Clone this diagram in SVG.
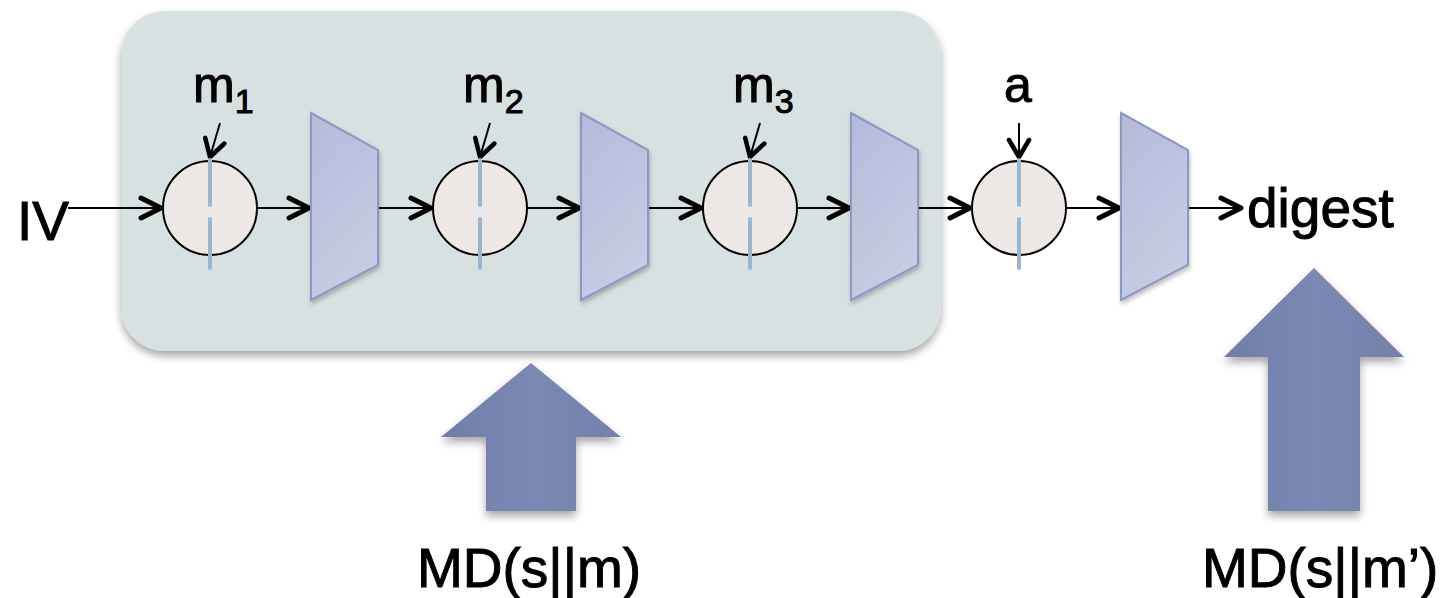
<svg xmlns="http://www.w3.org/2000/svg" width="1450" height="598" viewBox="0 0 1450 598">
<defs>
<style>
.lbl{font-family:"Liberation Sans","DejaVu Sans",sans-serif;fill:#000;stroke:#000;stroke-width:1}
.big{font-size:55px}
.m{font-size:50px}
.sub{font-size:34px}
.circ{fill:#ede8e6;stroke:#000;stroke-width:2}
.dash{stroke:#98b6cf;stroke-width:4;stroke-linecap:round;fill:none}
.trap{fill:url(#tg);stroke:#8b98c1;stroke-width:2;filter:url(#sh2)}
.ln{stroke:#000;stroke-width:2;fill:none}
.ln1{marker-end:url(#ah)}
.ln2{marker-end:url(#ahs)}
.bigarrow{fill:url(#ag);filter:url(#sh)}
</style>
<linearGradient id="tg" x1="0" y1="0" x2="0.4" y2="1">
<stop offset="0" stop-color="#b3bad9"/>
<stop offset="1" stop-color="#c7cce4"/>
</linearGradient>
<linearGradient id="ag" x1="0" y1="0" x2="1" y2="0">
<stop offset="0" stop-color="#6f7ea8"/>
<stop offset="0.5" stop-color="#7a88b3"/>
<stop offset="1" stop-color="#7381aa"/>
</linearGradient>
<filter id="sh" x="-20%" y="-20%" width="140%" height="140%">
<feDropShadow dx="0" dy="5" stdDeviation="4" flood-color="#000" flood-opacity="0.35"/>
</filter>
<filter id="sh2" x="-20%" y="-20%" width="140%" height="140%">
<feDropShadow dx="1" dy="3" stdDeviation="2" flood-color="#000" flood-opacity="0.25"/>
</filter>
<marker id="ah" markerUnits="userSpaceOnUse" markerWidth="40" markerHeight="40" refX="0" refY="0" orient="auto" overflow="visible">
<path d="M-20,-10 L0,0 L-20,10" fill="none" stroke="#000" stroke-width="5" stroke-linecap="round" stroke-linejoin="round"/>
</marker>
<marker id="ahs" markerUnits="userSpaceOnUse" markerWidth="40" markerHeight="40" refX="0" refY="0" orient="auto" overflow="visible">
<path d="M-17,-10 L0,0 L-17,10" fill="none" stroke="#000" stroke-width="4.5" stroke-linecap="round" stroke-linejoin="round"/>
</marker>
</defs>

<g id="container">
<rect x="121" y="11" width="820" height="340" rx="44" ry="44" fill="#d8e1e2" filter="url(#sh)"/>
</g>

<g id="connectors">
<line class="ln ln1" x1="68" y1="208" x2="161" y2="208"/>
<line class="ln ln1" x1="257" y1="208" x2="309" y2="208"/>
<line class="ln ln1" x1="378" y1="208" x2="431" y2="208"/>
<line class="ln ln1" x1="527" y1="208" x2="579" y2="208"/>
<line class="ln ln1" x1="648" y1="208" x2="701" y2="208"/>
<line class="ln ln1" x1="797" y1="208" x2="849" y2="208"/>
<line class="ln ln1" x1="918" y1="208" x2="970" y2="208"/>
<line class="ln ln1" x1="1067" y1="208" x2="1119" y2="208"/>
<line class="ln ln1" x1="1188" y1="208" x2="1241" y2="208"/>
<line class="ln ln2" x1="220" y1="123" x2="210" y2="157"/>
<line class="ln ln2" x1="490" y1="123" x2="480" y2="157"/>
<line class="ln ln2" x1="760" y1="123" x2="750" y2="157"/>
<line class="ln ln2" x1="1019" y1="123" x2="1019" y2="157"/>
</g>

<g id="xor1">
<circle class="circ" cx="210" cy="208" r="47"/>
<path class="dash" d="M210,160 V205 M210,219 V268"/>
</g>
<g id="xor2">
<circle class="circ" cx="480" cy="208" r="47"/>
<path class="dash" d="M480,160 V205 M480,219 V268"/>
</g>
<g id="xor3">
<circle class="circ" cx="750" cy="208" r="47"/>
<path class="dash" d="M750,160 V205 M750,219 V268"/>
</g>
<g id="xor4">
<circle class="circ" cx="1019" cy="208" r="47"/>
<path class="dash" d="M1019,160 V205 M1019,219 V268"/>
</g>

<g id="f1"><polygon class="trap" points="311,113 378,150 378,265 311,300"/></g>
<g id="f2"><polygon class="trap" points="581,113 648,150 648,265 581,300"/></g>
<g id="f3"><polygon class="trap" points="851,113 918,150 918,265 851,300"/></g>
<g id="f4"><polygon class="trap" points="1121,113 1188,150 1188,265 1121,300"/></g>

<g id="labels">
<text class="lbl big" x="17" y="240">IV</text>
<text class="lbl m" x="193" y="102">m<tspan class="sub" dx="0" y="113">1</tspan></text>
<text class="lbl m" x="463" y="102">m<tspan class="sub" dx="0" y="113">2</tspan></text>
<text class="lbl m" x="733" y="102">m<tspan class="sub" dx="0" y="113">3</tspan></text>
<text class="lbl m" x="1004" y="102">a</text>
<text class="lbl big" x="1247" y="227">digest</text>
</g>

<g id="arrow1">
<polygon class="bigarrow" points="531,363 621,437 576,437 576,511 486,511 486,437 441,437"/>
<text class="lbl big" x="417" y="587">MD(s||m)</text>
</g>
<g id="arrow2">
<polygon class="bigarrow" points="1314,268 1404,357 1360,357 1360,511 1268,511 1268,357 1224,357"/>
<text class="lbl big" x="1202" y="587">MD(s||m’)</text>
</g>
</svg>
